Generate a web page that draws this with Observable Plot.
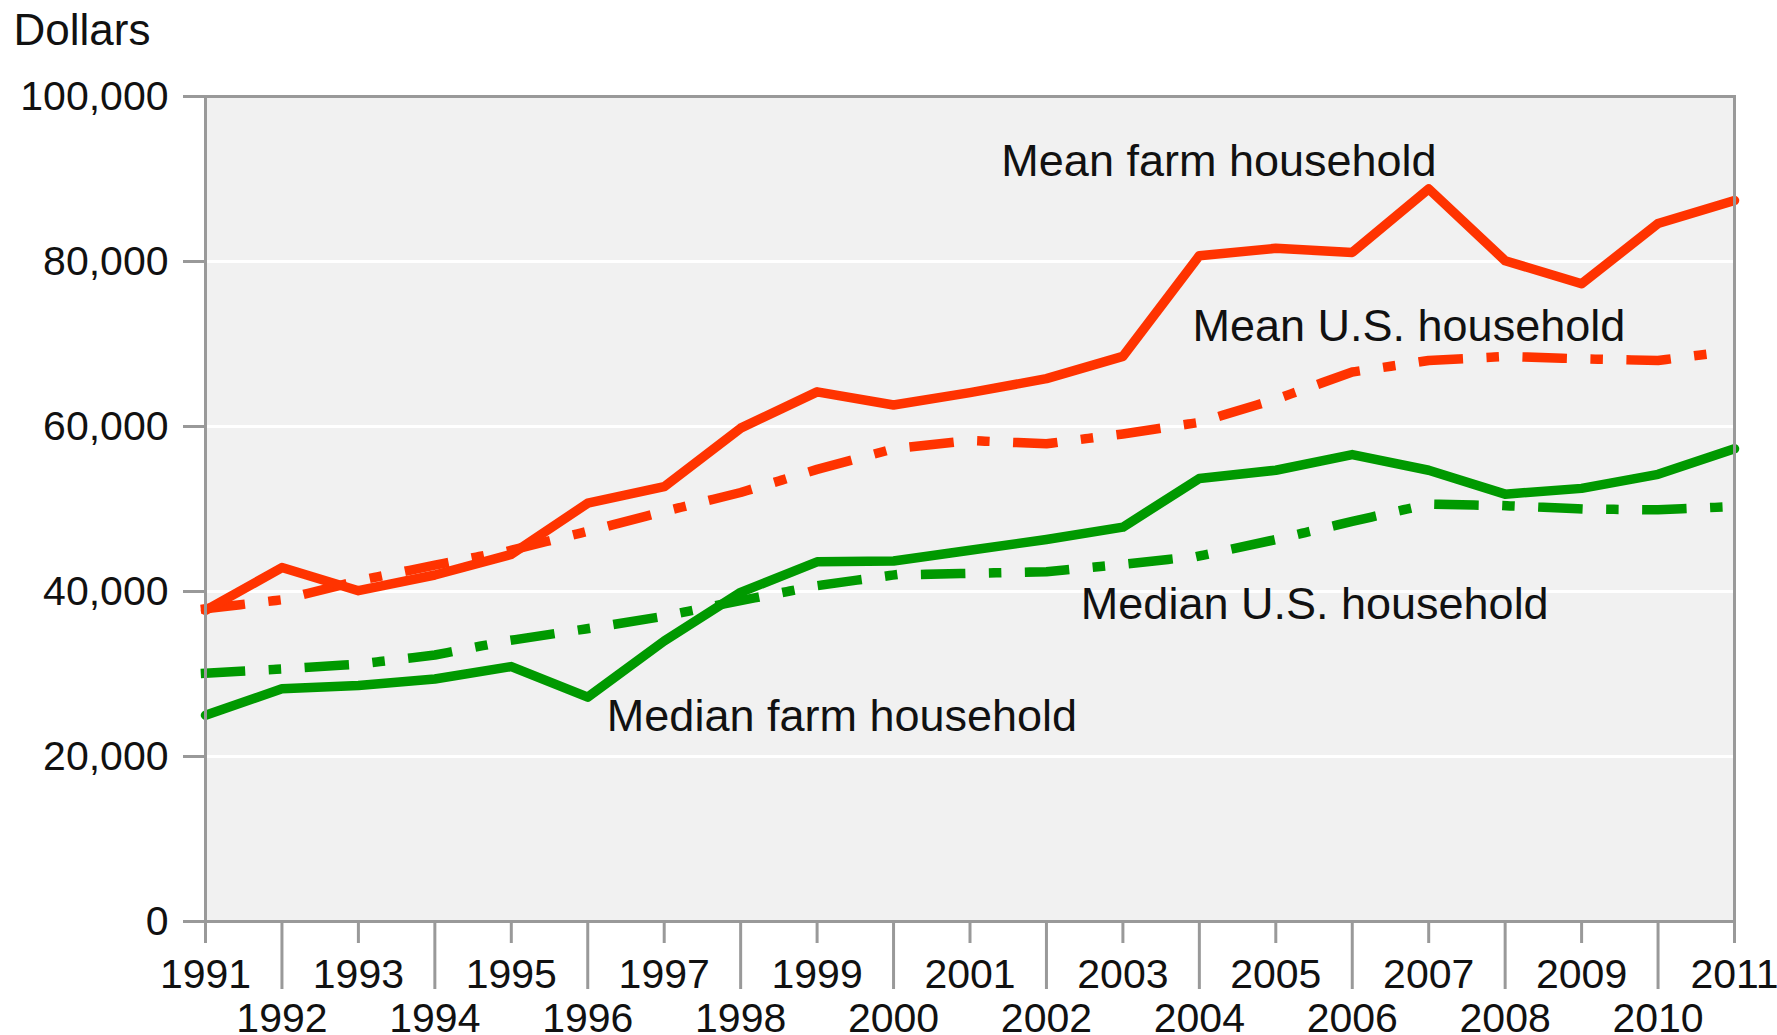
<!DOCTYPE html>
<html>
<head>
<meta charset="utf-8">
<script src="https://cdn.jsdelivr.net/npm/d3@7"></script>
<script src="https://cdn.jsdelivr.net/npm/@observablehq/plot@0.6"></script>
<style>
  html, body { margin: 0; padding: 0; background: #fff; }
  #chart svg { display: block; }
</style>
</head>
<body>
<div id="chart"></div>
<script>
// ---- Data ----
const years = [1991, 1992, 1993, 1994, 1995, 1996, 1997, 1998, 1999, 2000,
               2001, 2002, 2003, 2004, 2005, 2006, 2007, 2008, 2009, 2010, 2011];
const meanFarm   = [37700, 42900, 40100, 42000, 44500, 50700, 52700, 59800, 64200, 62600,
                    64100, 65800, 68500, 80700, 81600, 81100, 88800, 80100, 77300, 84600, 87400];
const meanUS     = [37900, 39000, 41300, 43200, 45000, 47300, 49700, 52000, 54800, 57300,
                    58300, 57900, 59100, 60500, 63300, 66600, 68000, 68500, 68200, 68000, 69200];
const medianUS   = [30100, 30600, 31200, 32300, 34100, 35500, 37000, 38900, 40700, 42000,
                    42200, 42400, 43300, 44300, 46300, 48500, 50600, 50400, 50000, 49900, 50300];
const medianFarm = [25000, 28200, 28600, 29400, 30900, 27200, 34000, 39900, 43600, 43700,
                    45000, 46300, 47800, 53700, 54700, 56600, 54700, 51800, 52500, 54200, 57300];

const yTicks    = [0, 20000, 40000, 60000, 80000, 100000];
const gridTicks = [20000, 40000, 60000, 80000];
const oddYears  = [1991, 1993, 1995, 1997, 1999, 2001, 2003, 2005, 2007, 2009, 2011];
const evenYears = [1992, 1994, 1996, 1998, 2000, 2002, 2004, 2006, 2008, 2010];

const labelNames  = ["Mean farm household", "Mean U.S. household", "Median U.S. household", "Median farm household"];
const labelYears  = [2001.41, 2003.91, 2002.45, 1996.25];
const labelValues = [92100, 72100, 38400, 24800];

const yTitle = "Dollars";

// ---- Build tables ----
const rows = (vals) => years.map((yr, i) => ({year: yr, value: vals[i]}));
const labels = labelNames.map((name, i) => ({name, year: labelYears[i], value: labelValues[i]}));

const RED = "#ff3300";
const GREEN = "#009900";
const AXIS = "#999999";
const LW = 9.5;
const dashDot = "35,33,3,33";

const chart = Plot.plot({
  width: 1777,
  height: 1035,
  marginLeft: 205,
  marginRight: 43,
  marginTop: 96,
  marginBottom: 114,
  style: {fontFamily: "'Liberation Sans', Arial, sans-serif", fontSize: "41px", color: "#111", background: "#fff"},
  x: {domain: [1991, 2011]},
  y: {domain: [0, 100000]},
  marks: [
    Plot.frame({fill: "#f1f1f1"}),
    Plot.gridY(gridTicks, {stroke: "#fff", strokeOpacity: 1, strokeWidth: 3}),
    Plot.lineY(rows(meanUS), {x: "year", y: "value", stroke: RED, strokeWidth: LW, strokeDasharray: dashDot, strokeLinecap: "square"}),
    Plot.lineY(rows(medianUS), {x: "year", y: "value", stroke: GREEN, strokeWidth: LW, strokeDasharray: dashDot, strokeLinecap: "square"}),
    Plot.lineY(rows(meanFarm), {x: "year", y: "value", stroke: RED, strokeWidth: LW}),
    Plot.lineY(rows(medianFarm), {x: "year", y: "value", stroke: GREEN, strokeWidth: LW}),
    Plot.frame({stroke: AXIS, strokeWidth: 3}),
    Plot.axisY(yTicks, {tickSize: 22, tickPadding: 15, tickFormat: d3.format(","), stroke: AXIS, strokeWidth: 3, label: null, fill: "#111", fontSize: 41}),
    Plot.axisX(oddYears, {tickSize: 22, tickPadding: 15, tickFormat: d => String(d), stroke: AXIS, strokeWidth: 3, label: null, fill: "#111", fontSize: 41}),
    Plot.axisX(evenYears, {tickSize: 68, tickPadding: 13, tickFormat: d => String(d), stroke: AXIS, strokeWidth: 3, label: null, fill: "#111", fontSize: 41}),
    Plot.text(labels, {x: "year", y: "value", text: "name", textAnchor: "start", lineAnchor: "middle", fontSize: 45, fill: "#111"}),
    Plot.text([yTitle], {frameAnchor: "top-left", dx: -192, dy: -83, lineAnchor: "top", textAnchor: "start", fontSize: 44, fill: "#111"})
  ]
});

document.getElementById("chart").appendChild(chart);
</script>
</body>
</html>
